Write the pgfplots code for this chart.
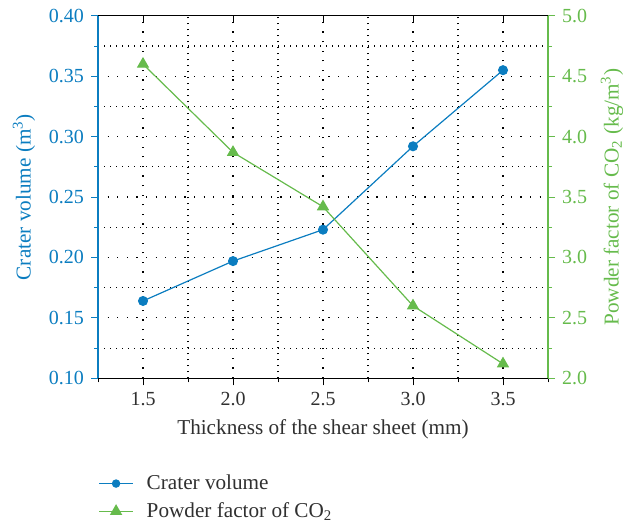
\documentclass[border=0pt]{standalone}
\usepackage{fontspec}
\setmainfont{Liberation Serif}
\usepackage{pgfplots}
\pgfplotsset{compat=1.18}
\definecolor{cblue}{HTML}{0B7DC0}
\definecolor{cgreen}{HTML}{66BB4C}
\definecolor{txtgray}{HTML}{303030}

\pgfplotsset{
  twin/.style={
    scale only axis, width=225pt, height=181.25pt,
    xmin=1.25, xmax=3.75,
    font=\fontsize{10.6}{12}\selectfont,
    tick label style={font=\fontsize{10}{11}\selectfont},
    /pgf/number format/assume math mode=true,
    /pgf/number format/fixed,
    /pgf/number format/fixed zerofill,
    major tick length=3.5pt, minor tick length=2pt,
    every tick/.style={line width=0.5pt},
    every outer x axis line/.append style={-},
    every outer y axis line/.append style={-},
  },
}

\begin{document}
\begin{tikzpicture}
% left axis: crater volume
\begin{axis}[twin, name=ax,
  ymin=0.1, ymax=0.4,
  xtick={1.5,2,2.5,3,3.5},
  minor xtick={1.25,1.75,2.25,2.75,3.25,3.75},
  ytick={0.1,0.15,0.2,0.25,0.3,0.35,0.4},
  minor ytick={0.125,0.175,0.225,0.275,0.325,0.375},
  axis x line*=bottom, axis y line*=left,
  xtick pos=bottom, ytick pos=left,
  tick align=outside,
  x axis line style={black, line width=0.6pt, -},
  y axis line style={cblue, line width=0.6pt, -},
  x tick style={black}, y tick style={cblue},
  grid=both,
  major grid style={black, line width=0.55pt, dash pattern=on 0.6pt off 4.2pt},
  minor grid style={black, line width=0.55pt, dash pattern=on 0.6pt off 2.4pt},
  xticklabel style={txtgray, /pgf/number format/precision=1},
  yticklabel style={cblue, /pgf/number format/precision=2},
  xlabel={Thickness of the shear sheet (mm)},
  xlabel style={txtgray},
  ylabel={Crater volume (m\textsuperscript{3})},
  ylabel style={cblue},
]
\addplot[cblue, line width=0.6pt, mark=*, mark size=2.2pt] coordinates {
  (1.5,0.164) (2.0,0.197) (2.5,0.223) (3.0,0.292) (3.5,0.355)
};
\end{axis}

% right axis: powder factor
\begin{axis}[twin,
  ymin=2, ymax=5,
  ytick={2,2.5,3,3.5,4,4.5,5},
  minor ytick={2.25,2.75,3.25,3.75,4.25,4.75},
  axis x line=none, axis y line*=right,
  ytick pos=right,
  tick align=outside,
  y axis line style={cgreen, line width=0.6pt, -},
  y tick style={cgreen},
  yticklabel style={cgreen, /pgf/number format/precision=1},
  ylabel={Powder factor of CO\textsubscript{2} (kg/m\textsuperscript{3})},
  ylabel style={cgreen},
  legend style={at={(0,0)}, anchor=north west, yshift=-47pt,
    draw=none, fill=none, inner sep=0pt, row sep=3pt, column sep=5.5pt,
    nodes={inner sep=1pt, text=txtgray}},
  legend cell align=left,
]
\addlegendimage{cblue, line width=0.6pt, mark=*, mark size=1.8pt}
\addlegendentry{Crater volume}
\addplot[cgreen, line width=0.6pt, mark=triangle*, mark size=3pt] coordinates {
  (1.5,4.60) (2.0,3.87) (2.5,3.42) (3.0,2.60) (3.5,2.12)
};
\addlegendentry{Powder factor of CO\textsubscript{2}}
\end{axis}

% top edge with inward ticks
\begin{axis}[twin,
  ymin=0, ymax=1,
  hide y axis,
  axis x line*=top, xtick pos=top,
  tick align=inside,
  xtick={1.5,2,2.5,3,3.5}, minor xtick={},
  xticklabels={},
  x axis line style={black, line width=0.6pt, -},
  x tick style={black},
]
\addplot[draw=none] coordinates {(1.5,0.5)};
\end{axis}

\path (ax.south west) ++(-49pt,-71.85pt) rectangle ++(315pt,261pt);
\end{tikzpicture}
\end{document}
